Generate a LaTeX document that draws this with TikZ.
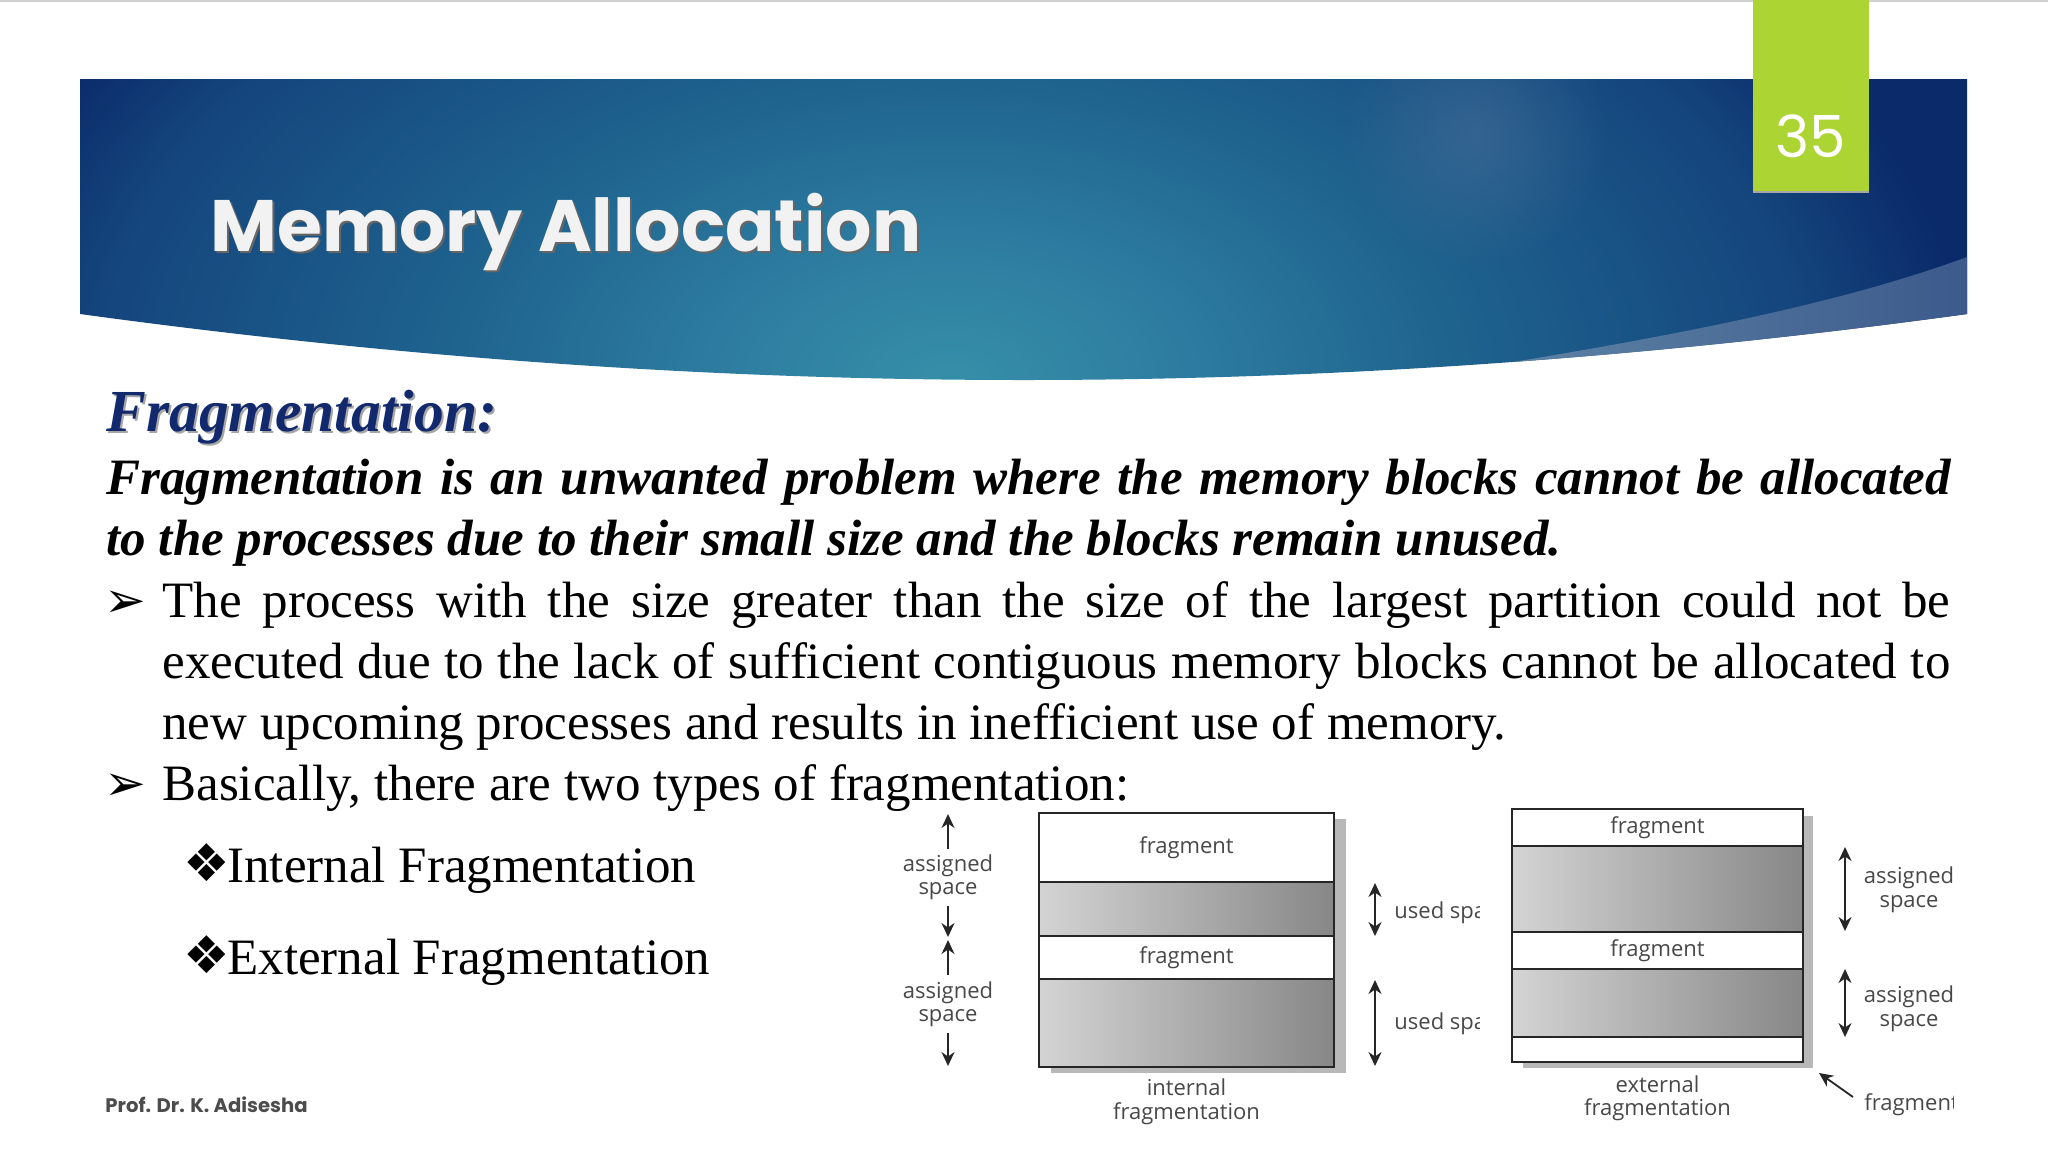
\documentclass[tikz,border=0pt]{standalone}
\usepackage{fontspec}
\usepackage{color}
\usetikzlibrary{positioning,fadings,arrows.meta}
\setmainfont{Liberation Serif}
\newfontfamily\gothicfont{Poppins}
\newfontfamily\figfont{Open Sans}
\newfontfamily\dingfont{DejaVu Sans}
\definecolor{slidegreen}{HTML}{ACD433}
\definecolor{headblue}{HTML}{12296E}
\definecolor{figtext}{HTML}{484848}
\definecolor{glowblue}{HTML}{4A7199}
\definecolor{swooshA}{HTML}{5F85A6}
\definecolor{swooshB}{HTML}{3C5A8C}
\tikzfading[name=glowfade, inner color=transparent!0, outer color=transparent!100]
\pgfdeclareradialshading{bannershade}{\pgfpoint{0bp}{0bp}}{rgb(0bp)=(0.21,0.56,0.66);rgb(5bp)=(0.18,0.49,0.63);rgb(11bp)=(0.12,0.39,0.56);rgb(19bp)=(0.08,0.27,0.49);rgb(22.5bp)=(0.04,0.165,0.41);rgb(50bp)=(0.04,0.165,0.41)}
\begin{document}
\begin{tikzpicture}[x=0.5pt, y=-0.5pt, >={Stealth[length=7pt, width=6.5pt]},
        fragband/.style={draw=black!85, line width=0.9pt, fill=white, inner sep=0pt, outer sep=0pt, text=figtext, font=\figfont\fontsize{11}{11.7}\selectfont, minimum width=#1},
        usedband/.style={draw=black!85, line width=0.9pt, left color=black!17, right color=black!47, inner sep=0pt, outer sep=0pt, minimum width=#1},
        dimarrow/.style={<->, line width=0.9pt, black!85},
        pointer/.style={->, line width=0.9pt, black!85},
        figlabel/.style={text=figtext, font=\figfont\fontsize{11}{11.8}\selectfont, align=center, inner sep=0pt},
        gaplabel/.style={figlabel, fill=white, inner xsep=1pt, inner ysep=3pt},
        bodytext/.style={anchor=base west, inner sep=0pt, align=justify, font=\fontsize{25.5}{30.7}\selectfont},
        markfont/.style={anchor=base west, inner sep=0pt, font=\dingfont\fontsize{#1}{30}\selectfont},
        shadowgray/.style={fill=black!28}]
        \fill[white] (0,0) rectangle (2048,1152);
        \useasboundingbox (0,0) rectangle (2048,1152);
        \fill[black!18] (0,0) rectangle (2048,1.5);
        \begin{scope}
                \clip (80,79) -- (1967,79) -- (1967,314) .. controls (1324,402) and (723,402) .. (80,314) -- cycle;
                \path[shading=bannershade] (-180,-300) rectangle (2080,1060);
                \fill[glowblue, opacity=0.55, path fading=glowfade] (1475,135) circle (135);
                \path[left color=swooshA, right color=swooshB]
                        (1476,368) .. controls (1700,332) and (1850,300) .. (1967,257) -- (1967,420) -- (1476,420) -- cycle;
        \end{scope}
        \fill[black!35] (1753,191) rectangle (1869,193);
        \fill[slidegreen] (1753,0) rectangle (1869,191);
        \node[text=white, font=\gothicfont\fontsize{29}{32}\selectfont] (pagenum) at (1811,136) {35};
        \node[anchor=base west, inner sep=0pt, text=black!60, font=\gothicfont\bfseries\fontsize{36.4}{40}\selectfont] (titleback) at (212,253) {Memory Allocation};
        \node[anchor=base west, inner sep=0pt, text=black!5, font=\gothicfont\bfseries\fontsize{36.4}{40}\selectfont] (title) at (210,251) {Memory Allocation};
        \node[anchor=base west, inner sep=0pt, text=black!35, font=\bfseries\itshape\fontsize{29.8}{32}\selectfont] (headback) at (108,433) {Fragmentation:};
        \node[anchor=base west, inner sep=0pt, text=headblue, font=\bfseries\itshape\fontsize{29.8}{32}\selectfont] (head) at (106,431) {Fragmentation:};
        \node[bodytext, text width=922pt, font=\bfseries\itshape\fontsize{25.5}{30.7}\selectfont] (defn) at (106,494)
                {Fragmentation is an unwanted problem where the memory blocks cannot be allocated\linebreak to the processes due to their small size and the blocks remain unused.};
        \node[markfont=25] (markA) at (104,617) {➢};
        \node[bodytext, text width=894pt] (paraA) at (162,617)
                {The process with the size greater than the size of the largest partition could not be\linebreak executed due to the lack of sufficient contiguous memory blocks cannot be allocated to\linebreak new upcoming processes and results in inefficient use of memory.};
        \node[markfont=25] (markB) at (104,800) {➢};
        \node[bodytext, text width=894pt] (paraB) at (162,800) {Basically, there are two types of fragmentation:};
        \node[markfont=26] (markC) at (183,881) {❖};
        \node[bodytext, text width=300pt] (typeA) at (227,882) {Internal Fragmentation};
        \node[markfont=26] (markD) at (183,973) {❖};
        \node[bodytext, text width=300pt] (typeB) at (227,974) {External Fragmentation};
        \node[anchor=base west, inner sep=0pt, text=black!70, font=\gothicfont\bfseries\fontsize{9.8}{12}\selectfont] (author) at (105,1112) {Prof. Dr. K. Adisesha};

        \fill[shadowgray] (1051,819) rectangle (1346,1073);
        \node[fragband=147.5pt, anchor=north west, minimum height=34.5pt] (intfragA) at (1039,813) {fragment};
        \node[usedband=147.5pt, minimum height=27pt, below=0pt of intfragA] (intusedA) {};
        \node[fragband=147.5pt, minimum height=21.5pt, below=0pt of intusedA] (intfragB) {fragment};
        \node[usedband=147.5pt, minimum height=44pt, below=0pt of intfragB] (intusedB) {};
        \node[figlabel, below=5.8pt of intusedB] (intcap) {internal\\fragmentation};
        \coordinate (assignAtop) at (948,814);
        \coordinate (assignAbot) at (948,937);
        \coordinate (assignBtop) at (948,940);
        \coordinate (assignBbot) at (948,1066);
        \draw[dimarrow] (assignAtop) -- node[gaplabel, pos=0.515] (assignA) {assigned\\space} (assignAbot);
        \draw[dimarrow] (assignBtop) -- node[gaplabel, pos=0.51] (assignB) {assigned\\space} (assignBbot);
        \coordinate (usedAtop) at (1375,883);
        \coordinate (usedAbot) at (1375,936);
        \coordinate (usedBtop) at (1375,980);
        \coordinate (usedBbot) at (1375,1066);
        \draw[dimarrow] (usedAtop) -- (usedAbot);
        \draw[dimarrow] (usedBtop) -- (usedBbot);

        \fill[shadowgray] (1523,816) rectangle (1813,1068);
        \node[fragband=145.5pt, anchor=north west, minimum height=18.5pt] (extfragA) at (1512,809) {fragment};
        \node[usedband=145.5pt, minimum height=43pt, below=0pt of extfragA] (extusedA) {};
        \node[fragband=145.5pt, minimum height=18.5pt, below=0pt of extusedA] (extfragB) {fragment};
        \node[usedband=145.5pt, minimum height=34pt, below=0pt of extfragB] (extusedB) {};
        \node[fragband=145.5pt, minimum height=12.5pt, below=0pt of extusedB] (extfragC) {};
        \node[figlabel, below=6.5pt of extfragC] (extcap) {external\\fragmentation};
        \coordinate (extAtop) at (1845,847);
        \coordinate (extAbot) at (1845,931);
        \coordinate (extBtop) at (1845,969);
        \coordinate (extBbot) at (1845,1037);
        \draw[dimarrow] (extAtop) -- (extAbot);
        \draw[dimarrow] (extBtop) -- (extBbot);
        \node[figlabel, anchor=center] (extlabelA) at (1909,890) {assigned\\space};
        \node[figlabel, anchor=center] (extlabelB) at (1909,1009) {assigned\\space};

        \begin{scope}
                \clip (1390,880) rectangle (1479,1040);
                \node[figlabel, anchor=west] (usedA) at (1394,913) {used spa};
                \node[figlabel, anchor=west] (usedB) at (1394,1024) {used spa};
        \end{scope}
        \begin{scope}
                \clip (1860,1080) rectangle (1953,1130);
                \node[figlabel, anchor=west] (fragout) at (1864,1105) {fragment};
        \end{scope}
        \coordinate (fragtip) at (1819,1073);
        \coordinate (fragtail) at (1853,1097);
        \draw[pointer] (fragtail) -- (fragtip);
\end{tikzpicture}
\end{document}
